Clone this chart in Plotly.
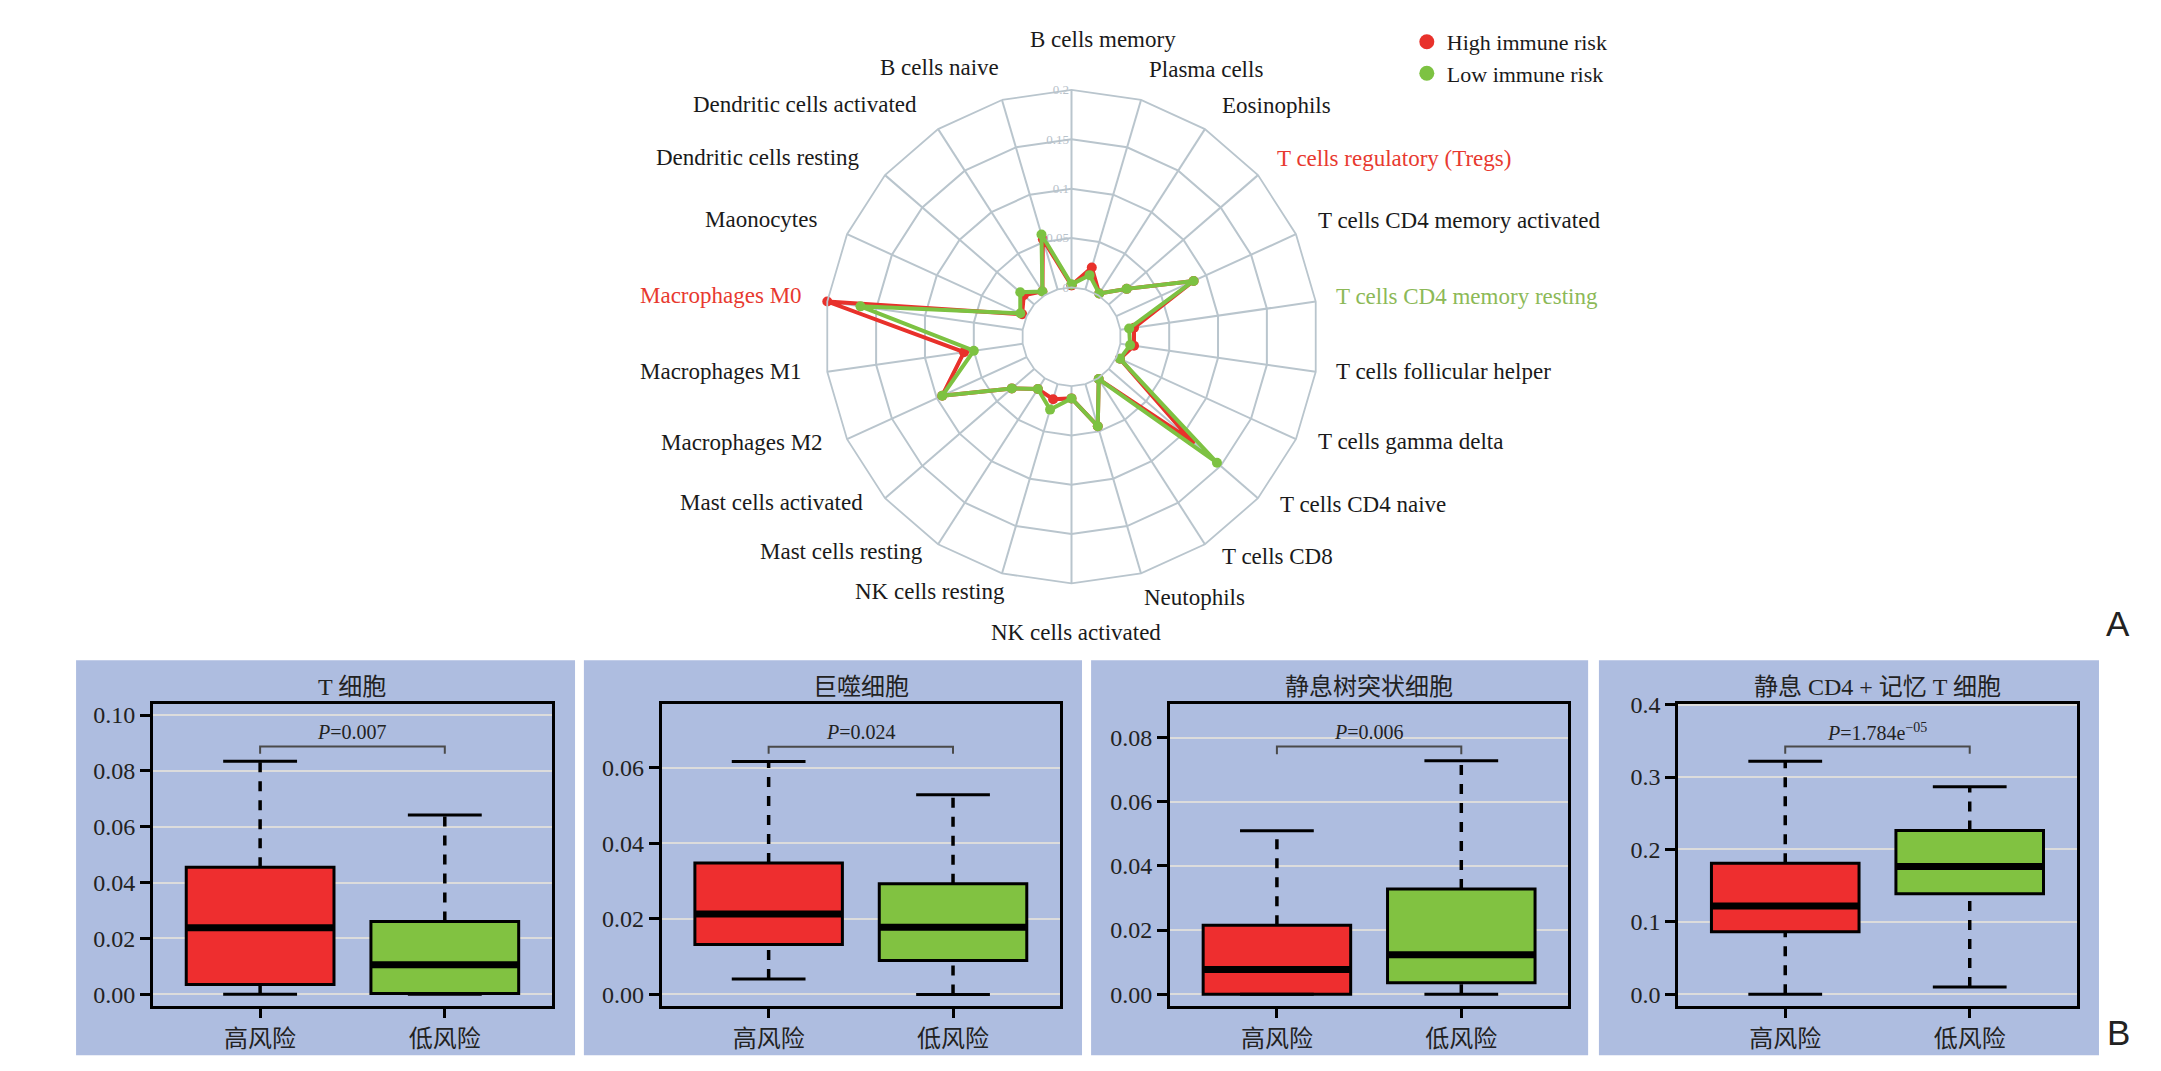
import plotly.graph_objects as go

# ---------------- Radar data ----------------
cell_types = [
    "B cells memory", "Plasma cells", "Eosinophils", "T cells regulatory (Tregs)",
    "T cells CD4 memory activated", "T cells CD4 memory resting", "T cells follicular helper",
    "T cells gamma delta", "T cells CD4 naive", "T cells CD8", "Neutophils",
    "NK cells activated", "NK cells resting", "Mast cells resting", "Mast cells activated",
    "Macrophages M2", "Macrophages M1", "Macrophages M0", "Maonocytes",
    "Dendritic cells resting", "Dendritic cells activated", "B cells naive",
]
high_risk = [0.002, 0.023, 0.002, 0.024, 0.086, 0.014, 0.014, 0.004, 0.110, 0.001, 0.0445,
             0.0125, 0.016, 0.013, 0.030, 0.094, 0.060, 0.200, 0.005, 0.014, 0.0045, 0.053]
low_risk = [0.003, 0.015, 0.002, 0.024, 0.086, 0.009, 0.010, 0.004, 0.145, 0.001, 0.0445,
            0.0125, 0.027, 0.013, 0.030, 0.094, 0.050, 0.166, 0.007, 0.0187, 0.0045, 0.058]
radial_tickvals = [0, 0.05, 0.1, 0.15, 0.2]
radial_ticktext = ["0", "0.05", "0.1", "0.15", "0.2"]
red_labels = ["Macrophages M0", "T cells regulatory (Tregs)"]
green_labels = ["T cells CD4 memory resting"]
series_names = ["High immune risk", "Low immune risk"]

# ---------------- Box data ----------------
panel_titles = ["T 细胞", "巨噬细胞", "静息树突状细胞", "静息 CD4 + 记忆 T 细胞"]
groups = ["高风险", "低风险"]
box_lower = [[0.0, 0.0], [0.0041, 0.0], [0.0, 0.0], [0.0, 0.010]]
box_q1 = [[0.0035, 0.0003], [0.0132, 0.0090], [0.0, 0.0036], [0.0864, 0.1386]]
box_median = [[0.0238, 0.0106], [0.0213, 0.0178], [0.0077, 0.0123], [0.1218, 0.1764]]
box_q3 = [[0.0455, 0.0261], [0.0348, 0.0293], [0.0215, 0.0328], [0.181, 0.226]]
box_upper = [[0.0835, 0.0642], [0.0617, 0.0529], [0.051, 0.0728], [0.3218, 0.2864]]
p_texts = ["<i>P</i>=0.007", "<i>P</i>=0.024", "<i>P</i>=0.006", "<i>P</i>=1.784e<sup>−05</sup>"]
p_bracket = [0.0887, 0.0656, 0.0772, 0.342]
p_bracket_foot = [0.0861, 0.0637, 0.0748, 0.332]
p_label_y = [0.094, 0.0696, 0.0819, 0.3628]
y_tickvals = [[0, 0.02, 0.04, 0.06, 0.08, 0.10], [0, 0.02, 0.04, 0.06],
              [0, 0.02, 0.04, 0.06, 0.08], [0, 0.1, 0.2, 0.3, 0.4]]
y_ticktext = [["0.00", "0.02", "0.04", "0.06", "0.08", "0.10"],
              ["0.00", "0.02", "0.04", "0.06"],
              ["0.00", "0.02", "0.04", "0.06", "0.08"],
              ["0.0", "0.1", "0.2", "0.3", "0.4"]]
y_ranges = [[-0.0041, 0.1041], [-0.003, 0.077], [-0.0036, 0.0906], [-0.016, 0.4014]]

# ---------------- Styles / layout ----------------
W, H = 2161, 1071
RED = "#E8312B"
GREEN = "#7DC242"
LABEL_RED = "#E8392F"
LABEL_GREEN = "#8CB957"
BOX_RED = "#EE2E2F"
BOX_GREEN = "#81C241"
GRID = "#B9C5CD"
PANEL_BG = "#AEBDE0"
SERIF = "Liberation Serif, Noto Sans CJK SC, serif"
CJK = "Liberation Serif, Noto Sans CJK SC, sans-serif"

# radar label placement (pixel anchor, anchor side) -- layout only
label_pos = {
    "B cells memory": (1103, 28, "center"),
    "Plasma cells": (1147, 58, "left"),
    "Eosinophils": (1220, 95, "left"),
    "T cells regulatory (Tregs)": (1275, 148, "left"),
    "T cells CD4 memory activated": (1316, 211, "left"),
    "T cells CD4 memory resting": (1334, 288, "left"),
    "T cells follicular helper": (1334, 364, "left"),
    "T cells gamma delta": (1316, 435, "left"),
    "T cells CD4 naive": (1278, 499, "left"),
    "T cells CD8": (1220, 552, "left"),
    "Neutophils": (1142, 593, "left"),
    "NK cells activated": (1076, 629, "center"),
    "NK cells resting": (1007, 587, "right"),
    "Mast cells resting": (925, 547, "right"),
    "Mast cells activated": (865, 497, "right"),
    "Macrophages M2": (825, 436, "right"),
    "Macrophages M1": (804, 364, "right"),
    "Macrophages M0": (804, 287, "right"),
    "Maonocytes": (819, 210, "right"),
    "Dendritic cells resting": (862, 147, "right"),
    "Dendritic cells activated": (919, 94, "right"),
    "B cells naive": (1001, 56, "right"),
}

fig = go.Figure()

# Radar traces
for name, vals, col in [(series_names[0], high_risk, RED), (series_names[1], low_risk, GREEN)]:
    fig.add_trace(go.Scatterpolar(
        r=vals + vals[:1], theta=cell_types + cell_types[:1], mode="lines+markers",
        line=dict(color=col, width=4), marker=dict(color=col, size=10),
        cliponaxis=False, showlegend=False, name=name, subplot="polar"))
    fig.add_trace(go.Scatterpolar(
        r=[None], theta=[None], mode="markers", marker=dict(color=col, size=15),
        name=name, showlegend=True, subplot="polar"))

annotations = []
for c in cell_types:
    px_x, px_y, anc = label_pos[c]
    col = LABEL_RED if c in red_labels else (LABEL_GREEN if c in green_labels else "#1a1a1a")
    annotations.append(dict(x=px_x / W, y=1 - px_y / H, xref="paper", yref="paper", text=c,
                            xanchor=anc, yanchor="middle", showarrow=False,
                            font=dict(family=SERIF, size=23, color=col)))

# Box panels
plot_x_domains = [[0.0708, 0.2554], [0.3062, 0.4905], [0.5414, 0.7257], [0.7766, 0.9610]]
plot_y_domain = [0.0598, 0.3457]
panel_bg_x = [[0.0352, 0.2661], [0.2702, 0.5007], [0.5049, 0.7349], [0.7399, 0.9713]]
panel_bg_y = [0.0131, 0.3866]
fills = [BOX_RED, BOX_GREEN]
shapes = []

for i in range(4):
    ax = "" if i == 0 else str(i + 1)
    xa, ya = "x" + ax, "y" + ax
    for j in range(2):
        # dashed whiskers
        for y0, y1 in [(box_q3[i][j], box_upper[i][j]), (box_lower[i][j], box_q1[i][j])]:
            fig.add_trace(go.Scatter(x=[j, j], y=[y0, y1], mode="lines", xaxis=xa, yaxis=ya,
                                     line=dict(color="black", width=3.5, dash="10px,9px"),
                                     showlegend=False, hoverinfo="skip"))
        # caps
        for yv in [box_upper[i][j], box_lower[i][j]]:
            fig.add_trace(go.Scatter(x=[j - 0.2, j + 0.2], y=[yv, yv], mode="lines",
                                     xaxis=xa, yaxis=ya, line=dict(color="black", width=3),
                                     showlegend=False, hoverinfo="skip"))
        # box
        fig.add_trace(go.Box(x=[j], q1=[box_q1[i][j]], median=[box_median[i][j]],
                             q3=[box_q3[i][j]], lowerfence=[box_q1[i][j]],
                             upperfence=[box_q3[i][j]], width=0.8, whiskerwidth=0,
                             fillcolor=fills[j], line=dict(color="black", width=3),
                             xaxis=xa, yaxis=ya, showlegend=False, boxpoints=False,
                             name=groups[j]))
        # thick median
        fig.add_trace(go.Scatter(x=[j - 0.4, j + 0.4], y=[box_median[i][j]] * 2, mode="lines",
                                 xaxis=xa, yaxis=ya, line=dict(color="black", width=7),
                                 showlegend=False, hoverinfo="skip"))
    # p-value bracket
    fig.add_trace(go.Scatter(x=[0, 0, 1, 1],
                             y=[p_bracket_foot[i], p_bracket[i], p_bracket[i], p_bracket_foot[i]],
                             mode="lines", xaxis=xa, yaxis=ya,
                             line=dict(color="#4A4A4A", width=2), showlegend=False,
                             hoverinfo="skip"))
    annotations.append(dict(x=0.5, y=p_label_y[i], xref=xa, yref=ya, text=p_texts[i],
                            xanchor="center", yanchor="middle",
                            showarrow=False, font=dict(family=SERIF, size=20, color="#222")))
    annotations.append(dict(x=sum(plot_x_domains[i]) / 2, y=0.3613, xref="paper", yref="paper",
                            text=panel_titles[i], showarrow=False, xanchor="center",
                            yanchor="middle",
                            font=dict(family=CJK, size=24, color="#222")))
    shapes.append(dict(type="rect", xref="paper", yref="paper",
                       x0=panel_bg_x[i][0], x1=panel_bg_x[i][1],
                       y0=panel_bg_y[0], y1=panel_bg_y[1],
                       fillcolor=PANEL_BG, line=dict(width=0), layer="below"))
    fig.update_layout(**{
        "xaxis" + ax: dict(domain=plot_x_domains[i], range=[-0.58, 1.58], tickvals=[0, 1],
                           ticktext=groups, ticks="outside", ticklen=9, tickwidth=3,
                           tickcolor="black", showline=True, mirror=True, linewidth=3,
                           linecolor="black", showgrid=False, zeroline=False,
                           tickfont=dict(family=CJK, size=24, color="#222"),
                           anchor=ya),
        "yaxis" + ax: dict(domain=plot_y_domain, range=y_ranges[i], tickvals=y_tickvals[i],
                           ticktext=y_ticktext[i], ticks="outside", ticklen=10, tickwidth=3,
                           tickcolor="black", showline=True, mirror=True, linewidth=3,
                           linecolor="black", showgrid=True, gridcolor="#DCDCDC",
                           gridwidth=1.5, zeroline=False,
                           tickfont=dict(family=SERIF, size=24, color="#222"),
                           anchor=xa),
    })

for letter, ly in [("A", 620), ("B", 1034)]:
    annotations.append(dict(x=2118 / W, y=1 - ly / H, xref="paper", yref="paper", text=letter,
                            xanchor="center", yanchor="middle", showarrow=False,
                            font=dict(family="Liberation Sans, sans-serif", size=35,
                                      color="#222")))

fig.update_layout(
    width=W, height=H, margin=dict(l=0, r=0, t=0, b=0),
    paper_bgcolor="white", plot_bgcolor="white",
    shapes=shapes, annotations=annotations,
    polar=dict(
        domain=dict(x=[0.38038, 0.61129], y=[0.45938, 0.92624]),
        bgcolor="white", hole=0.2, gridshape="linear",
        radialaxis=dict(range=[0, 0.2], tickvals=radial_tickvals, ticktext=radial_ticktext,
                        angle=90, tickangle=90, side="counterclockwise", showline=False,
                        ticks="", gridcolor=GRID, gridwidth=1.8,
                        tickfont=dict(family=SERIF, size=13, color="#B8C2CA")),
        angularaxis=dict(rotation=90, direction="clockwise", categoryarray=cell_types,
                         categoryorder="array", showticklabels=False, ticks="",
                         showline=True, linecolor=GRID, linewidth=1.8,
                         gridcolor=GRID, gridwidth=1.8),
    ),
    legend=dict(x=0.651, y=0.9916, xanchor="left", yanchor="top", bgcolor="rgba(0,0,0,0)",
                font=dict(family=SERIF, size=22, color="#1a1a1a"), itemwidth=30,
                tracegroupgap=0),
)

fig.write_html("out.html", config={"displayModeBar": False},
               post_script="document.body.style.margin='0';document.body.style.overflow='hidden';")
